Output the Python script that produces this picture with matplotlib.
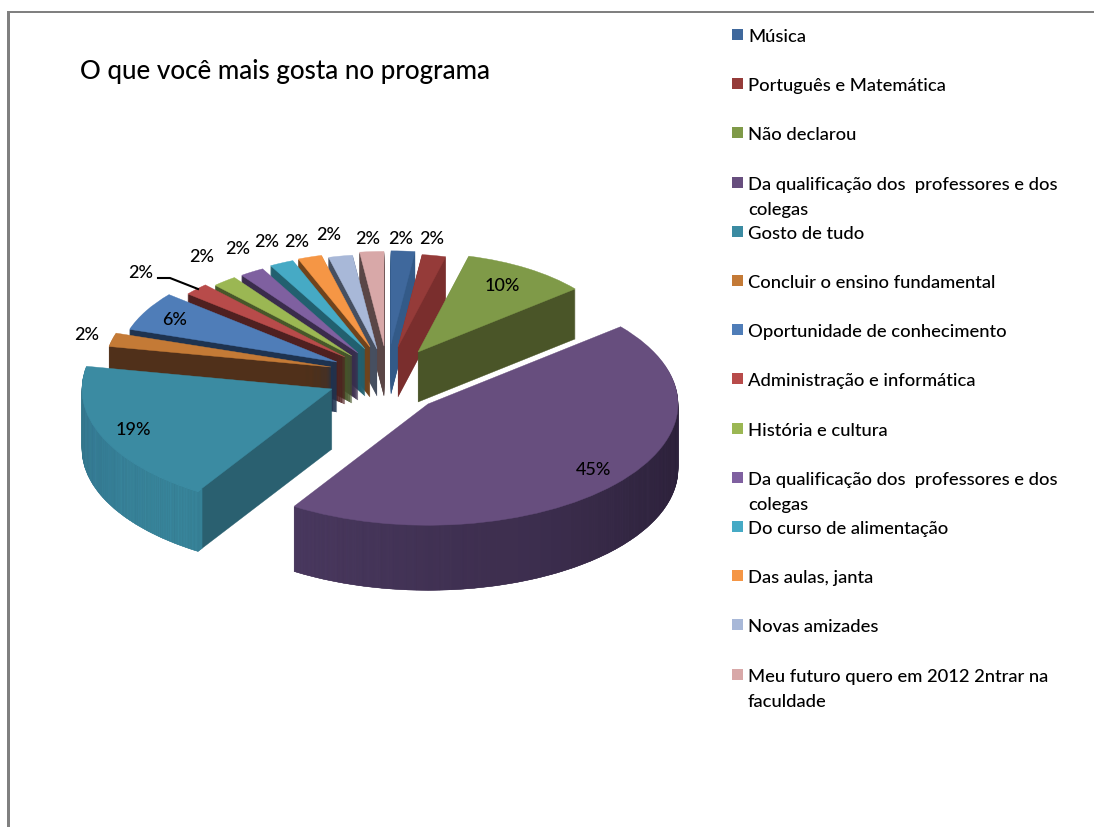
import numpy as np
import matplotlib
matplotlib.use('Agg')
import matplotlib.pyplot as plt
from matplotlib.colors import to_rgb
from matplotlib.patches import Wedge, Rectangle

W, H = 1094, 828
Y_SQUASH = 0.485   # flattening of the pie, the reference is a tilted 3D pie

categories = ['Música', 'Português e Matemática', 'Não declarou',
              'Da qualificação dos  professores e dos\ncolegas', 'Gosto de tudo',
              'Concluir o ensino fundamental', 'Oportunidade de conhecimento',
              'Administração e informática', 'História e cultura',
              'Da qualificação dos  professores e dos\ncolegas', 'Do curso de alimentação',
              'Das aulas, janta', 'Novas amizades',
              'Meu futuro quero em 2012 2ntrar na\nfaculdade']
values = [2, 2, 10, 45, 19, 2, 6, 2, 2, 2, 2, 2, 2, 2]
colors = ['#3F689C', '#953B39', '#7F9A48', '#674E7E', '#3B8BA2', '#C47A36', '#4F7DB8',
          '#B84B4A', '#9BB753', '#7F60A0', '#46AAC5', '#F59645', '#A8B8D8', '#D8A8A8']
wall_colors = ['#335A88', '#7A2E2D', '#4A5528', '#3E2F4F', '#2A6070', '#50301A', '#1E3350',
               '#4F2020', '#47572A', '#3A2C4C', '#22606F', '#70431C', '#464F60', '#5A4646']

# style of the explosion / perspective per slice, in pixels
radius = [192, 192, 204, 250, 250, 226, 218, 204, 200, 198, 196, 195, 195, 195]
depth = [50, 50, 50, 65, 60, 50, 50, 47, 47, 47, 47, 50, 47, 50]
pull_x = [6, 13, 33, 43, -53, -54, -48, -40, -33, -27, -20, -15, -8, -1]
pull_y = [-15, -12, -7, 45, 30, 8, 3, -2, -3, -6, -10, -12, -10, -13]
CX, CY = 385, 360

pct_labels = ['2%', '2%', '10%', '45%', '19%', '2%', '6%', '2%', '2%', '2%', '2%', '2%', '2%', '2%']
pct_x = [401, 432, 502, 594, 133, 87, 175, 141, 202, 238, 267, 297, 329, 368]
pct_y = [239, 239, 286, 470, 430, 335, 320, 273, 257, 249, 242, 242, 235, 239]

plt.rcParams['font.family'] = ['Lato', 'DejaVu Sans']
plt.rcParams['font.weight'] = 'medium'

fig = plt.figure(figsize=(W / 100, H / 100), dpi=100)
ax = fig.add_axes([0, 0, 1, 1])
wedges, _ = ax.pie(values, colors=colors, startangle=90, counterclock=False)
ax.set_aspect('auto')
ax.set_xlim(0, W)
ax.set_ylim(0, H / Y_SQUASH)


def wall_shade(i, t):
    # horizontal light falloff on the two big front walls
    if i == 3:
        stops = [to_rgb('#4C3B62'), to_rgb('#3A2C4B'), to_rgb('#241B30'), to_rgb('#2E233B')]
    else:
        stops = [to_rgb('#397F96'), to_rgb('#3A85A0'), to_rgb('#3B8BA2'), to_rgb('#3B8BA2')]
    return [np.interp(t, [0, 0.4, 0.8, 1], [s[c] for s in stops]) for c in range(3)]


for i, w in enumerate(wedges):
    cx = CX + pull_x[i]
    cy = (H - CY - pull_y[i]) / Y_SQUASH
    w.set_center((cx, cy))
    w.set_radius(radius[i])
    w.set_zorder(100)
    w.set_edgecolor(colors[i])
    w.set_linewidth(0.3)

    strips = 60 if i in (3, 4) else 0
    edges = np.linspace(w.theta1, w.theta2, strips + 1)
    for d in np.arange(depth[i], 0, -1.0):
        centre = (cx, cy - d / Y_SQUASH)
        # the whole slice in the cut-face colour, then the outer rim strips over it
        ax.add_patch(Wedge(centre, radius[i], w.theta1, w.theta2,
                           fc=wall_colors[i], ec=wall_colors[i], lw=0.3, zorder=100 - d))
        for s in range(strips):
            c = wall_shade(i, s / (strips - 1))
            ax.add_patch(Wedge(centre, radius[i], edges[s], edges[s + 1], width=8,
                               fc=c, ec=c, lw=0.3, zorder=100 - d))

over = fig.add_axes([0, 0, 1, 1], facecolor='none')
over.set_xlim(0, W)
over.set_ylim(H, 0)
over.axis('off')

# frame of the pasted chart
over.add_patch(Rectangle((7, 12), 3, H - 12, fc='#808080', ec='none'))
over.add_patch(Rectangle((7, 12), W - 7, 1.5, fc='#808080', ec='none'))

over.text(80, 72, 'O que você mais gosta no programa', fontsize=18.7, va='center', color='black')

for lab, x, y in zip(pct_labels, pct_x, pct_y):
    over.text(x, y, lab, fontsize=13, ha='center', va='center', color='black')
over.plot([158, 170, 198], [279, 279, 290], color='black', lw=1.5)

# legend
for i, (name, col) in enumerate(zip(categories, colors)):
    y = 36 + i * 49.2
    over.add_patch(Rectangle((732, y - 6), 11, 11, fc=col, ec='none'))
    for j, line in enumerate(name.split('\n')):
        over.text(748, y + 6 + 25 * j, line, fontsize=13.2, va='baseline', color='black')

fig.savefig('out.png', dpi=100)
